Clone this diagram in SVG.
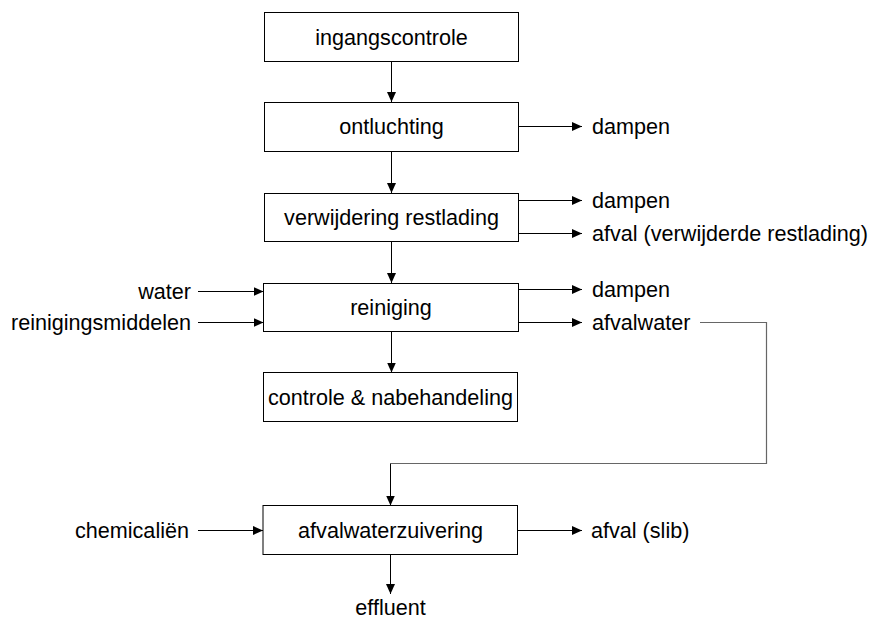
<svg xmlns="http://www.w3.org/2000/svg" width="871" height="625" viewBox="0 0 871 625">
<style>
.box{fill:#fff;stroke:#000;stroke-width:1}
.t{font-family:"Liberation Sans",Arial,sans-serif;font-size:21.6px;fill:#000}
.c{text-anchor:middle}
.r{text-anchor:end}
.ln{stroke:#000;stroke-width:1;fill:none}
.ar{stroke:#000;stroke-width:1;fill:none;marker-end:url(#ah)}
.gr{stroke:#666;stroke-width:1.2;fill:none}
</style>
<defs>
<marker id="ah" markerUnits="userSpaceOnUse" markerWidth="11" markerHeight="10" refX="10" refY="4.5" orient="auto">
<path d="M0,0 L10,4.5 L0,9 z" fill="#000"/>
</marker>
</defs>
<rect width="871" height="625" fill="#fff"/>
<g id="connectors">
<line class="ar" x1="391.5" y1="61.5" x2="391.5" y2="102"/>
<line class="ar" x1="391.5" y1="151.5" x2="391.5" y2="193"/>
<line class="ar" x1="391.5" y1="241.5" x2="391.5" y2="283"/>
<line class="ar" x1="391.5" y1="331.5" x2="391.5" y2="372.5"/>
<line class="ar" x1="518" y1="126.5" x2="582" y2="126.5"/>
<line class="ar" x1="518" y1="200.5" x2="582" y2="200.5"/>
<line class="ar" x1="518" y1="233.5" x2="582" y2="233.5"/>
<line class="ar" x1="518" y1="289.5" x2="582" y2="289.5"/>
<line class="ar" x1="518" y1="322.5" x2="582" y2="322.5"/>
<line class="ar" x1="198" y1="291.5" x2="263.5" y2="291.5"/>
<line class="ar" x1="198" y1="322.5" x2="263.5" y2="322.5"/>
<line class="ar" x1="198" y1="530.5" x2="263" y2="530.5"/>
<line class="ar" x1="517.5" y1="530.5" x2="582" y2="530.5"/>
<line class="ar" x1="390.5" y1="555" x2="390.5" y2="594"/>
<polyline class="gr" points="700,322.5 766.5,322.5 766.5,463.5 390.5,463.5"/>
<line class="ar" x1="390.5" y1="463.5" x2="390.5" y2="505.5"/>
</g>
<g id="n1"><rect class="box" x="264.5" y="12.5" width="254" height="49"/><text class="t c" x="391.5" y="44.5">ingangscontrole</text></g>
<g id="n2"><rect class="box" x="264.5" y="102.5" width="254" height="49"/><text class="t c" x="391.5" y="134">ontluchting</text></g>
<g id="n3"><rect class="box" x="264.5" y="193.5" width="254" height="48"/><text class="t c" x="391.5" y="224.5">verwijdering restlading</text></g>
<g id="n4"><rect class="box" x="263.5" y="283.5" width="255" height="48"/><text class="t c" x="391" y="314.5">reiniging</text></g>
<g id="n5"><rect class="box" x="263.5" y="372.5" width="254" height="49"/><text class="t c" x="390.5" y="404.5">controle &amp; nabehandeling</text></g>
<g id="n6"><rect class="box" x="263" y="505.5" width="254.5" height="49"/><text class="t c" x="390.5" y="537.5">afvalwaterzuivering</text></g>
<g id="labels">
<text class="t" x="592" y="134">dampen</text>
<text class="t" x="592" y="208">dampen</text>
<text class="t" x="592" y="241">afval (verwijderde restlading)</text>
<text class="t" x="592" y="297">dampen</text>
<text class="t" x="592" y="330">afvalwater</text>
<text class="t" x="591" y="538">afval (slib)</text>
<text class="t r" x="191" y="299">water</text>
<text class="t r" x="191" y="330">reinigingsmiddelen</text>
<text class="t r" x="189" y="538">chemicaliën</text>
<text class="t c" x="390.5" y="615">effluent</text>
</g>
</svg>
